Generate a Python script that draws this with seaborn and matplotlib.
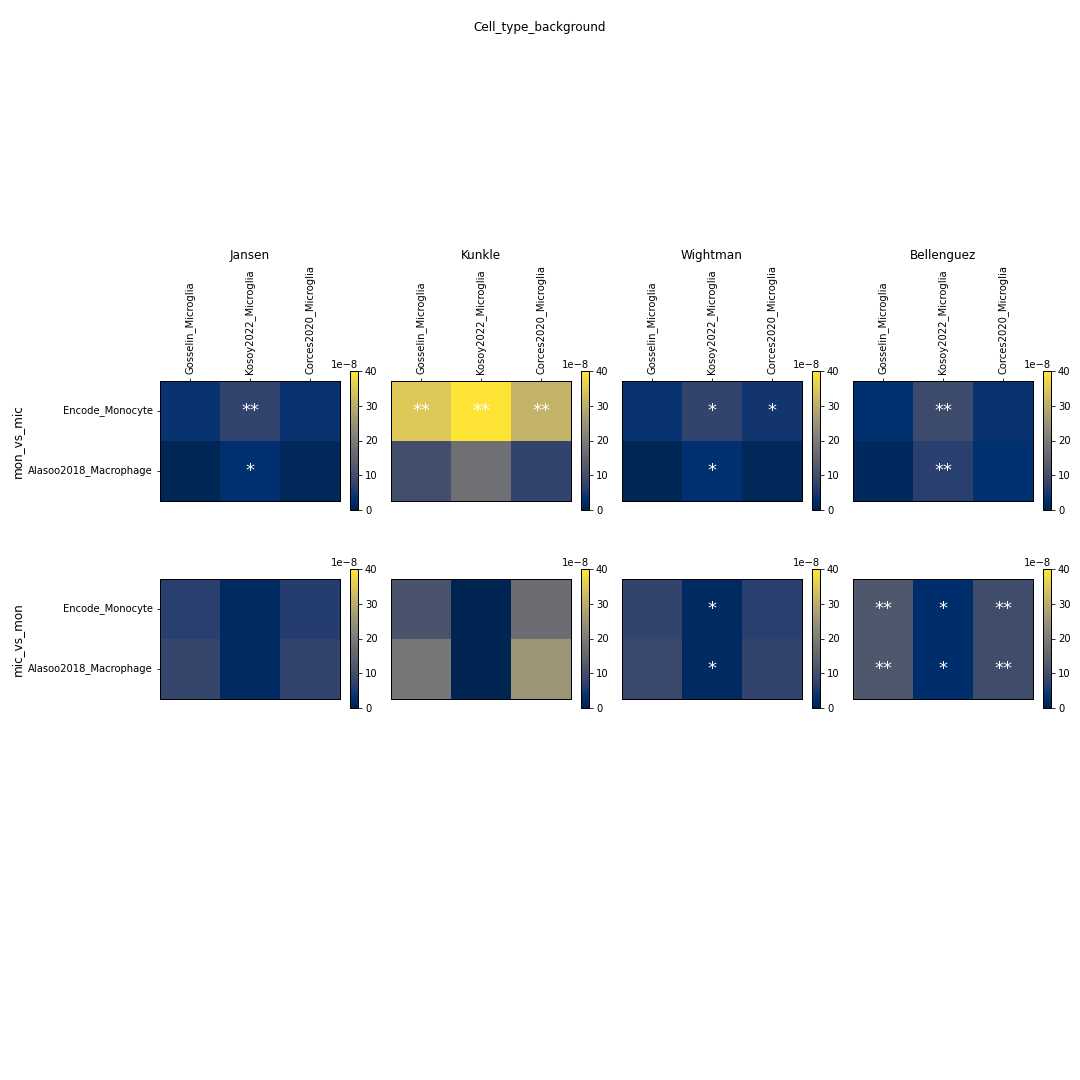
import numpy as np
import pandas as pd
import matplotlib
matplotlib.use("Agg")
import matplotlib.pyplot as plt
from matplotlib.ticker import ScalarFormatter
import seaborn as sns

# ---------------- data (values in units of 1e-8) ----------------
studies = ["Jansen", "Kunkle", "Wightman", "Bellenguez"]
comparisons = ["mon_vs_mic", "mic_vs_mon"]
row_labels = ["Encode_Monocyte", "Alasoo2018_Macrophage"]
col_labels = ["Gosselin_Microglia", "Kosoy2022_Microglia", "Corces2020_Microglia"]

jansen_mon_vs_mic = [[4.0, 7.5, 4.0], [0.8, 3.0, 1.2]]
kunkle_mon_vs_mic = [[35.0, 39.5, 31.0], [10.0, 17.5, 7.5]]
wightman_mon_vs_mic = [[4.0, 7.5, 4.5], [0.8, 3.0, 1.2]]
bellenguez_mon_vs_mic = [[3.0, 9.0, 4.0], [1.5, 6.5, 3.0]]

jansen_mic_vs_mon = [[6.5, 2.0, 6.0], [8.0, 2.0, 7.5]]
kunkle_mic_vs_mon = [[11.0, 0.5, 17.0], [19.0, 0.5, 25.0]]
wightman_mic_vs_mon = [[7.5, 1.8, 6.5], [8.5, 1.8, 7.5]]
bellenguez_mic_vs_mon = [[12.0, 2.8, 9.5], [12.0, 2.8, 9.5]]

jansen_mon_vs_mic_sig = [["", "**", ""], ["", "*", ""]]
kunkle_mon_vs_mic_sig = [["**", "**", "**"], ["", "", ""]]
wightman_mon_vs_mic_sig = [["", "*", "*"], ["", "*", ""]]
bellenguez_mon_vs_mic_sig = [["", "**", ""], ["", "**", ""]]

jansen_mic_vs_mon_sig = [["", "", ""], ["", "", ""]]
kunkle_mic_vs_mon_sig = [["", "", ""], ["", "", ""]]
wightman_mic_vs_mon_sig = [["", "*", ""], ["", "*", ""]]
bellenguez_mic_vs_mon_sig = [["**", "*", "**"], ["**", "*", "**"]]

cbar_ticks = [0, 10, 20, 30, 40]
UNIT = 1e-8
VMAX = 40

values = {
    ("mon_vs_mic", "Jansen"): (jansen_mon_vs_mic, jansen_mon_vs_mic_sig),
    ("mon_vs_mic", "Kunkle"): (kunkle_mon_vs_mic, kunkle_mon_vs_mic_sig),
    ("mon_vs_mic", "Wightman"): (wightman_mon_vs_mic, wightman_mon_vs_mic_sig),
    ("mon_vs_mic", "Bellenguez"): (bellenguez_mon_vs_mic, bellenguez_mon_vs_mic_sig),
    ("mic_vs_mon", "Jansen"): (jansen_mic_vs_mon, jansen_mic_vs_mon_sig),
    ("mic_vs_mon", "Kunkle"): (kunkle_mic_vs_mon, kunkle_mic_vs_mon_sig),
    ("mic_vs_mon", "Wightman"): (wightman_mic_vs_mon, wightman_mic_vs_mon_sig),
    ("mic_vs_mon", "Bellenguez"): (bellenguez_mic_vs_mon, bellenguez_mic_vs_mon_sig),
}

# ---------------- layout ----------------
W = 1080.0
fig = plt.figure(figsize=(15, 15), dpi=72)

col_left_px = [160, 391, 622, 853]
row_top_px = [381, 579]
hm_w_px, hm_h_px = 180, 120
cb_off_px, cb_w_px, cb_h_px, cb_top_off_px = 190, 8, 139, -10

for r, comp in enumerate(comparisons):
    for c, study in enumerate(studies):
        vals, sig = values[(comp, study)]
        df = pd.DataFrame(np.array(vals) * UNIT, index=row_labels, columns=col_labels)
        annot = np.array(sig, dtype=object)

        left = col_left_px[c] / W
        bottom = 1 - (row_top_px[r] + hm_h_px) / W
        ax = fig.add_axes([left, bottom, hm_w_px / W, hm_h_px / W])
        cb_left = (col_left_px[c] + cb_off_px) / W
        cb_bottom = 1 - (row_top_px[r] + cb_top_off_px + cb_h_px) / W
        cax = fig.add_axes([cb_left, cb_bottom, cb_w_px / W, cb_h_px / W])

        sns.heatmap(df, ax=ax, cbar_ax=cax, cmap="cividis", vmin=0, vmax=VMAX * UNIT,
                    annot=annot, fmt="", annot_kws={"color": "white", "fontsize": 18},
                    square=False)

        for sp in ax.spines.values():
            sp.set_visible(True)
            sp.set_linewidth(1.0)
            sp.set_color("black")

        if r == 0:
            ax.xaxis.tick_top()
            ax.set_xticklabels(col_labels, rotation=90)
            ax.set_title(study, fontsize=12, pad=6)
        else:
            ax.set_xticks([])
        ax.set_xlabel("")

        if c == 0:
            ax.set_yticklabels(row_labels, rotation=0)
            ax.set_ylabel(comp, fontsize=12)
        else:
            ax.set_yticks([])
            ax.set_ylabel("")
        ax.tick_params(labelsize=10)

        cb = ax.collections[0].colorbar
        cb.outline.set_visible(True)
        cb.outline.set_linewidth(1.0)
        cb.outline.set_edgecolor("black")
        fmt = ScalarFormatter(useMathText=False)
        fmt.set_powerlimits((-8, -8))
        cb.formatter = fmt
        cb.set_ticks([t * UNIT for t in cbar_ticks])
        cb.update_ticks()
        cax.tick_params(labelsize=10)
        cax.yaxis.get_offset_text().set_fontsize(10)

fig.suptitle("Cell_type_background", y=1 - 28 / W, va="center", fontsize=12)

fig.savefig("out.png", dpi=72, facecolor="white")
